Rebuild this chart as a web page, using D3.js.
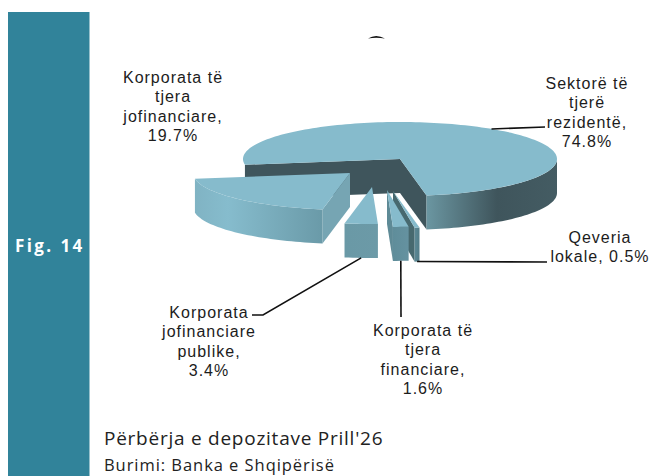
<!DOCTYPE html>
<html>
<head>
<meta charset="utf-8">
<script src="https://cdn.jsdelivr.net/npm/d3@7"></script>
<style>
    html, body { margin: 0; padding: 0; background: #fff; }
    svg { display: block; }
    .label { font-family: "Liberation Sans", Arial, sans-serif; font-size: 16px; letter-spacing: 1px; fill: #1c1c1c; text-anchor: middle; }
    .caption { font-family: "Open Sans", sans-serif; fill: #222; }
</style>
</head>
<body>
<svg id="chart" width="654" height="476"></svg>
<script>
// values
const categories = ['Sektorë të tjerë rezidentë', 'Qeveria lokale', 'Korporata të tjera financiare', 'Korporata jofinanciare publike', 'Korporata të tjera jofinanciare'];
const shares = [74.8, 0.5, 1.6, 3.4, 19.7];
const percentLabels = ['74.8%', '0.5%', '1.6%', '3.4%', '19.7%'];
const labelLines = [
    ['Sektorë të', 'tjerë', 'rezidentë,', '74.8%'],
    ['Qeveria', 'lokale, 0.5%'],
    ['Korporata të', 'tjera', 'financiare,', '1.6%'],
    ['Korporata', 'jofinanciare', 'publike,', '3.4%'],
    ['Korporata të', 'tjera', 'jofinanciare,', '19.7%']
];

// layout of the tilted pie
const cx = 400, cy = 159, rx = 157, ry = 37, depth = 34;
const startAngle = -99 * Math.PI / 180;
const explode = [[0, 0], [-7, 32], [-13, 31], [-28, 28], [-50, 14]];
const labelPos = [[587, 89], [600, 243], [423, 336], [209, 318], [173, 83]];
const leaderEnds = [[[545, 127]], [[547, 262]], [[401, 317]], [[263, 315], [252, 315]], null];

const topColor = '#86bbcc';
const wallColors = ['#3f555c', '#47696f', '#5e8a96', '#6c9aa7', '#76a5b3'];
const sideStops = [
    [[428, '#6a95a0'], [497, '#3f555c'], [558, '#445c63']],
    [[413, '#5f8d9a'], [421, '#4f7883']],
    [[393, '#5f8d9a'], [409, '#6592a0']],
    [[345, '#6a99a6'], [378, '#6c9aa7']],
    [[194, '#80b3c3'], [228, '#86bccd'], [323, '#6a9aa8']]
];

const svg = d3.select('#chart');
const defs = svg.append('defs');

// sidebar
svg.append('rect').attr('x', 8).attr('y', 12).attr('width', 81.5).attr('height', 464).attr('fill', '#31839a');
svg.append('text').attr('x', 15).attr('y', 252)
    .style('font-family', '"Open Sans", sans-serif').style('font-weight', 700)
    .style('font-size', '17px').style('letter-spacing', '2.4px').attr('fill', '#fff')
    .text('Fig. 14');

// clockwise from the top, same sense as the pie generator
const pie = d3.pie().sort(null).value(d => d)
    .startAngle(startAngle).endAngle(startAngle + 2 * Math.PI);
const arcs = pie(shares);

function project(a, i, drop) {
    const [ox, oy] = explode[i];
    return [cx + ox + rx * Math.sin(a), cy + oy - ry * Math.cos(a) + (drop || 0)];
}

function arcPoints(a0, a1, i, drop) {
    const n = Math.max(2, Math.ceil((a1 - a0) / 0.03));
    return d3.range(n + 1).map(k => project(a0 + (a1 - a0) * k / n, i, drop));
}

const line = d3.line();

arcs.forEach((d, i) => {
    const [ox, oy] = explode[i];
    const apex = [cx + ox, cy + oy];
    const apexLow = [apex[0], apex[1] + depth];
    const g = svg.append('g').attr('class', 'slice');

    // flat cut faces, only those turned to the viewer
    const norm = a => ((a % (2 * Math.PI)) + 2 * Math.PI) % (2 * Math.PI);
    const s = norm(d.startAngle), e = norm(d.endAngle);
    if (s > Math.PI) {
        g.append('path').attr('fill', wallColors[i])
            .attr('d', line([apex, project(d.startAngle, i), project(d.startAngle, i, depth), apexLow]) + 'Z');
    }
    if (e < Math.PI) {
        g.append('path').attr('fill', wallColors[i])
            .attr('d', line([apex, project(d.endAngle, i), project(d.endAngle, i, depth), apexLow]) + 'Z');
    }

    // rim, the part of it that faces front
    const a0 = Math.max(d.startAngle, Math.PI / 2), a1 = Math.min(d.endAngle, 3 * Math.PI / 2);
    if (a1 > a0) {
        const stops = sideStops[i];
        const grad = defs.append('linearGradient').attr('id', 'side' + i)
            .attr('gradientUnits', 'userSpaceOnUse')
            .attr('x1', stops[0][0]).attr('x2', stops[stops.length - 1][0]).attr('y1', 0).attr('y2', 0);
        const span = stops[stops.length - 1][0] - stops[0][0];
        stops.forEach(st => grad.append('stop')
            .attr('offset', (st[0] - stops[0][0]) / span).attr('stop-color', st[1]));
        const upper = arcPoints(a0, a1, i);
        const lower = arcPoints(a0, a1, i, depth).reverse();
        g.append('path').attr('fill', `url(#side${i})`).attr('d', line(upper.concat(lower)) + 'Z');
    }

    // top
    g.append('path').attr('fill', topColor)
        .attr('d', line([apex].concat(arcPoints(d.startAngle, d.endAngle, i))) + 'Z');
});

// leader lines
arcs.forEach((d, i) => {
    if (!leaderEnds[i]) return;
    const mid = (d.startAngle + d.endAngle) / 2;
    const from = project(mid, i, i === 0 ? 0 : depth);
    svg.append('path').attr('fill', 'none').attr('stroke', '#111').attr('stroke-width', 1.6)
        .attr('d', line([from].concat(leaderEnds[i])));
});

// stray bit of the hidden chart title
svg.append('path').attr('fill', '#111').attr('d', 'M368,38.5 Q376,33.5 385,38.5 Q376,36.8 368,38.5Z');

// labels
labelLines.forEach((lines, i) => {
    const t = svg.append('text').attr('class', 'label');
    lines.forEach((txt, k) => {
        t.append('tspan').attr('x', labelPos[i][0]).attr('y', labelPos[i][1] + k * 19.4).text(txt);
    });
});

// captions
svg.append('text').attr('class', 'caption').attr('x', 104).attr('y', 445)
    .style('font-size', '19px').style('letter-spacing', '0.75px').text("Përbërja e depozitave Prill'26");
svg.append('text').attr('class', 'caption').attr('x', 104).attr('y', 471)
    .style('font-size', '16.5px').style('letter-spacing', '0.95px').text('Burimi: Banka e Shqipërisë');
</script>
</body>
</html>
